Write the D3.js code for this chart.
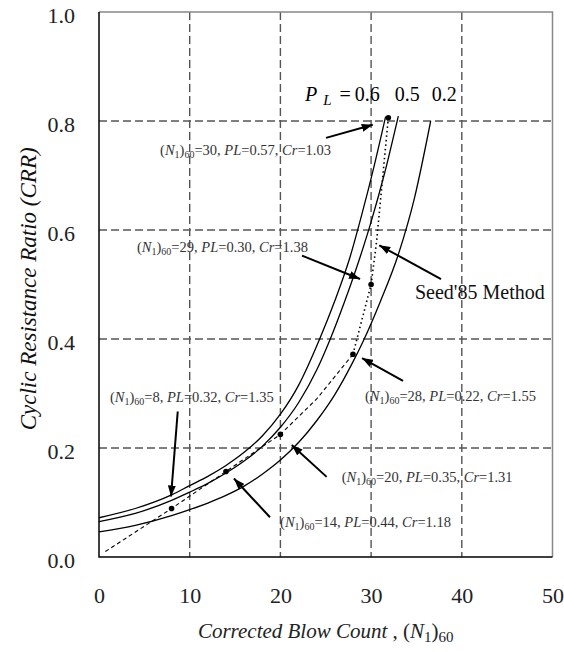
<!DOCTYPE html>
<html>
<head>
<meta charset="utf-8">
<script src="https://cdn.jsdelivr.net/npm/d3@7"></script>
<style>
  body { margin: 0; background: #fff; }
  svg text { font-family: "Liberation Serif", "Times New Roman", serif; }
</style>
</head>
<body>
<div id="chart"></div>
<script>
// tick values
const xTicks = [0, 10, 20, 30, 40, 50];
const yTicks = [0, 0.2, 0.4, 0.6, 0.8, 1.0];
const xGrid = [10, 20, 30, 40];
const yGrid = [0.2, 0.4, 0.6, 0.8];

// probability curves: [N1_60, CRR]
const curvePL06 = [[0,0.072],[4,0.089],[8,0.114],[10,0.131],[12,0.148],[14,0.168],[16,0.192],[18,0.222],[20,0.262],[22,0.315],[24.2,0.395],[26,0.47],[27.67,0.55],[29,0.63],[30.3,0.715],[31.6,0.808]];
const curvePL05 = [[0,0.065],[4,0.08],[8,0.104],[10,0.119],[12,0.135],[14,0.154],[16,0.176],[18,0.203],[20,0.238],[22,0.283],[24,0.343],[25.5,0.40],[27,0.465],[28.78,0.55],[30,0.615],[31.5,0.705],[33,0.809]];
const curvePL02 = [[0,0.046],[4,0.058],[8,0.076],[10,0.087],[12,0.099],[14,0.113],[16,0.13],[18,0.152],[20,0.178],[22,0.21],[24,0.25],[26,0.298],[28,0.358],[29.1,0.395],[31,0.468],[33,0.555],[34.8,0.66],[36.57,0.80]];

// Seed '85 line and case points
const seedN   = [0.7, 8, 14, 20, 24, 28, 30, 30.6, 31.9];
const seedCRR = [0.01, 0.089, 0.157, 0.225, 0.29, 0.372, 0.50, 0.578, 0.806];
const caseN   = [8, 14, 20, 28, 30, 31.9];
const caseCRR = [0.089, 0.157, 0.225, 0.372, 0.50, 0.806];

// annotations
const noteN1  = ["30", "29", "28", "20", "14", "8"];
const notePL  = ["0.57", "0.30", "0.22", "0.35", "0.44", "0.32"];
const noteCr  = ["1.03", "1.38", "1.55", "1.31", "1.18", "1.35"];
const noteAt  = [[6.73,0.7376],[4.19,0.560],[29.33,0.287],[26.76,0.138],[19.96,0.0556],[1.21,0.285]];
const noteArrows = [[25.03,0.769,30.18,0.793],[22.38,0.553,28.78,0.510],[33.52,0.323,29.0,0.365],[25.1,0.147,21.25,0.2055],[18.85,0.073,14.88,0.144],[8.68,0.267,7.94,0.111]];
const seedArrow = [37.71,0.510,30.90,0.572];
const plValues = ["0.6", "0.5", "0.2"];
const plAt = [28.2, 32.6, 36.7];

const serif = "'Liberation Serif', 'Times New Roman', serif";

const margin = {top: 12, right: 11.5, bottom: 95, left: 99};
const W = 564, H = 652;
const width = W - margin.left - margin.right;
const height = H - margin.top - margin.bottom;

const svg = d3.select("#chart").append("svg")
  .attr("width", W)
  .attr("height", H)
  .style("font-family", serif);

svg.append("defs").append("marker")
  .attr("id", "head")
  .attr("viewBox", "0 0 11 8")
  .attr("refX", 11).attr("refY", 4)
  .attr("markerWidth", 11).attr("markerHeight", 8)
  .attr("markerUnits", "userSpaceOnUse")
  .attr("orient", "auto")
  .append("path").attr("d", "M0,0L11,4L0,8Z").attr("fill", "#000");

const g = svg.append("g")
  .attr("transform", "translate(" + margin.left + "," + margin.top + ")");

const x = d3.scaleLinear().domain([0, 50]).range([0, width]);
const y = d3.scaleLinear().domain([0, 1]).range([height, 0]);

// grid
g.selectAll(".hgrid").data(yGrid).join("line")
  .attr("x1", 0).attr("x2", width)
  .attr("y1", d => y(d)).attr("y2", d => y(d))
  .attr("stroke", "#000").attr("stroke-width", 1)
  .attr("stroke-dasharray", "8,4");
g.selectAll(".vgrid").data(xGrid).join("line")
  .attr("x1", d => x(d)).attr("x2", d => x(d))
  .attr("y1", 0).attr("y2", height)
  .attr("stroke", "#555").attr("stroke-width", 1.4)
  .attr("stroke-dasharray", "8,4");

// frame: grey top/right, black left/bottom
g.append("path")
  .attr("d", `M0,0H${width}V${height}`)
  .attr("fill", "none").attr("stroke", "#888").attr("stroke-width", 1.5);
g.append("path")
  .attr("d", `M0,0V${height}H${width}`)
  .attr("fill", "none").attr("stroke", "#000").attr("stroke-width", 1.5);

// axes (labels only)
const xAxis = g.append("g")
  .attr("transform", "translate(0," + height + ")")
  .call(d3.axisBottom(x).tickValues(xTicks).tickFormat(d3.format("d")).tickSize(0).tickPadding(30));
const yAxis = g.append("g")
  .call(d3.axisLeft(y).tickValues(yTicks).tickFormat(d3.format(".1f")).tickSize(0).tickPadding(24));
[xAxis, yAxis].forEach(a => {
  a.attr("font-family", null).attr("font-size", null);
  a.select(".domain").remove();
  a.selectAll("text")
    .style("font-family", serif)
    .style("font-size", "22px")
    .attr("fill", "#222");
});
yAxis.selectAll("text").attr("dy", "0.49em");

// curves
const line = d3.line().x(d => x(d[0])).y(d => y(d[1])).curve(d3.curveMonotoneX);
[curvePL06, curvePL05, curvePL02].forEach(c => {
  g.append("path").datum(c)
    .attr("d", line)
    .attr("fill", "none").attr("stroke", "#000").attr("stroke-width", 1.3);
});

const seed = seedN.map((n, i) => [n, seedCRR[i]]);
const seedLine = d3.line().x(d => x(d[0])).y(d => y(d[1]));
g.append("path").datum(seed.slice(0, 6))
  .attr("d", seedLine)
  .attr("fill", "none").attr("stroke", "#000").attr("stroke-width", 1.1)
  .attr("stroke-dasharray", "4,3");
g.append("path").datum(seed.slice(5))
  .attr("d", seedLine)
  .attr("fill", "none").attr("stroke", "#000").attr("stroke-width", 1.6)
  .attr("stroke-dasharray", "1.5,3");

g.selectAll(".case").data(caseN).join("circle")
  .attr("cx", d => x(d))
  .attr("cy", (d, i) => y(caseCRR[i]))
  .attr("r", 2.8)
  .attr("fill", "#000");

// arrows
noteArrows.concat([seedArrow]).forEach(a => {
  g.append("line")
    .attr("x1", x(a[0])).attr("y1", y(a[1]))
    .attr("x2", x(a[2])).attr("y2", y(a[3]))
    .attr("stroke", "#000").attr("stroke-width", 2)
    .attr("marker-end", "url(#head)");
});

// note texts
noteN1.forEach((n, i) => {
  const t = g.append("text")
    .attr("x", x(noteAt[i][0])).attr("y", y(noteAt[i][1]))
    .attr("fill", "#333")
    .style("font-family", serif).style("font-size", "14.5px");
  t.append("tspan").text("(");
  t.append("tspan").style("font-style", "italic").text("N");
  t.append("tspan").attr("dy", 3).style("font-size", "10px").text("1");
  t.append("tspan").attr("dy", -3).text(")");
  t.append("tspan").attr("dy", 3).style("font-size", "10px").text("60");
  t.append("tspan").attr("dy", -3).text("=" + n + ", ");
  t.append("tspan").style("font-style", "italic").text("PL");
  t.append("tspan").text("=" + notePL[i] + ", ");
  t.append("tspan").style("font-style", "italic").text("Cr");
  t.append("tspan").text("=" + noteCr[i]);
});

g.append("text")
  .attr("x", x(34.84)).attr("y", y(0.473))
  .attr("fill", "#111")
  .style("font-family", serif).style("font-size", "20px")
  .text("Seed'85 Method");

// P_L label
const pl = g.append("text")
  .attr("x", x(22.71)).attr("y", y(0.837))
  .attr("fill", "#000")
  .style("font-family", serif).style("font-size", "20px");
pl.append("tspan").style("font-style", "italic").text("P");
pl.append("tspan").attr("dx", 6).attr("dy", 4).style("font-style", "italic").style("font-size", "15px").text("L");
pl.append("tspan").attr("dx", 8).attr("dy", -4).text("=");
g.selectAll(".plv").data(plValues).join("text")
  .attr("x", (d, i) => x(plAt[i])).attr("y", y(0.837))
  .attr("fill", "#000")
  .style("font-family", serif).style("font-size", "20px")
  .text(d => d);

// axis titles
const xt = svg.append("text")
  .attr("x", margin.left + width / 2)
  .attr("y", 638)
  .attr("text-anchor", "middle")
  .attr("fill", "#222")
  .style("font-family", serif).style("font-size", "21px");
xt.append("tspan").style("font-style", "italic").text("Corrected Blow Count");
xt.append("tspan").text(" , (");
xt.append("tspan").style("font-style", "italic").text("N");
xt.append("tspan").attr("dy", 4).style("font-size", "15px").text("1");
xt.append("tspan").attr("dy", -4).text(")");
xt.append("tspan").attr("dy", 4).style("font-size", "15px").text("60");

svg.append("text")
  .attr("transform", "translate(36," + (margin.top + y(0.492)) + ") rotate(-90)")
  .attr("text-anchor", "middle")
  .attr("fill", "#111")
  .style("font-family", serif)
  .style("font-size", "23px").style("font-style", "italic")
  .text("Cyclic Resistance Ratio (CRR)");
</script>
</body>
</html>
